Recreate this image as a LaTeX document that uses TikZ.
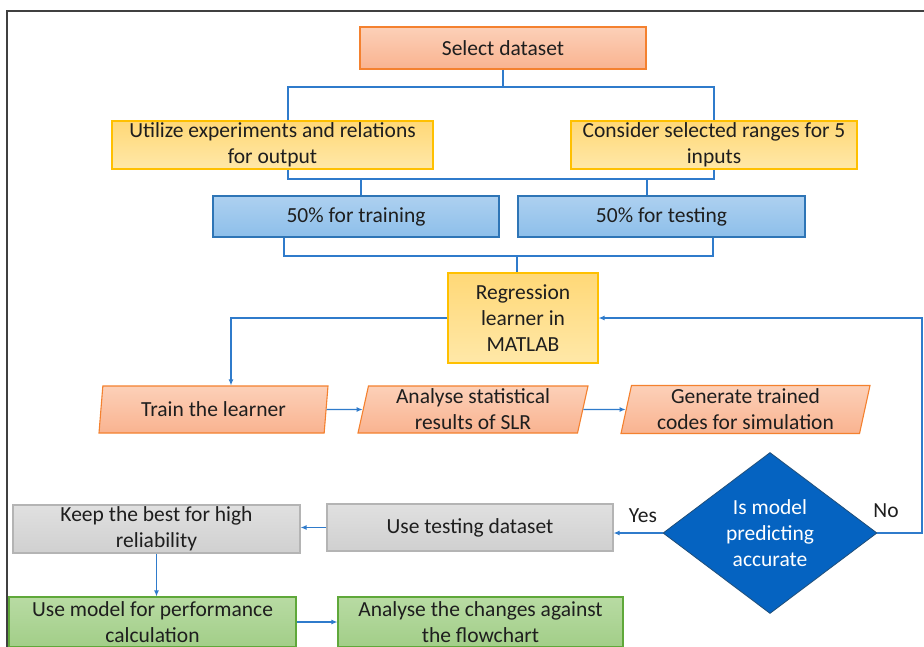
\documentclass[tikz,border=0pt]{standalone}
\usepackage{fontspec}
\setmainfont{Carlito}
\usetikzlibrary{shapes.geometric,arrows.meta}
\definecolor{txt}{HTML}{1E1E1E}
\definecolor{lnc}{HTML}{2F7BCB}
\definecolor{orT}{HTML}{FCD0B8}
\definecolor{orB}{HTML}{F9B390}
\definecolor{orD}{HTML}{F4812F}
\definecolor{yeT}{HTML}{FFD877}
\definecolor{yeB}{HTML}{FFE8A8}
\definecolor{yeD}{HTML}{FFC000}
\definecolor{blT}{HTML}{ADD0F0}
\definecolor{blB}{HTML}{8DBFEA}
\definecolor{blD}{HTML}{2E75B6}
\definecolor{grT}{HTML}{E0E0E0}
\definecolor{grB}{HTML}{D0D0D0}
\definecolor{grD}{HTML}{B4B4B4}
\definecolor{gnT}{HTML}{B8DBA3}
\definecolor{gnB}{HTML}{A2CE88}
\definecolor{gnD}{HTML}{5FA83A}
\definecolor{diaF}{HTML}{0563C1}
\definecolor{diaD}{HTML}{1F4E79}
\definecolor{frm}{HTML}{404040}
\begin{document}
\begin{tikzpicture}[x=1pt,y=-1pt,
  box/.style={draw, line width=1.1pt, inner sep=0pt, align=center,
    font=\fontsize{21.5}{26}\selectfont, text=txt},
  orbox/.style={box, draw=orD, top color=orT, bottom color=orB},
  yebox/.style={box, draw=yeD, top color=yeT, bottom color=yeB},
  blbox/.style={box, draw=blD, top color=blT, bottom color=blB},
  grbox/.style={box, draw=grD, top color=grT, bottom color=grB},
  gnbox/.style={box, draw=gnD, top color=gnT, bottom color=gnB},
  para/.style={orbox, trapezium, trapezium left angle=75.7, trapezium right angle=104.3,
    trapezium stretches body},
  conn/.style={draw=lnc, line width=1.4pt},
  arr/.style={conn, -{Latex[length=6pt,width=5pt]}},
  lbl/.style={font=\fontsize{21.5}{26}\selectfont, text=txt, inner sep=0pt}
]
\useasboundingbox (0,0) rectangle (924,646);
\clip (0,0) rectangle (924,646);
\fill[white] (0,0) rectangle (924,646);
\draw[frm, line width=1.5pt] (7,650) -- (7,11) -- (928,11);

% nodes
\node[orbox, minimum width=286pt, minimum height=42pt] (sel) at (503,48) {Select dataset};
\node[yebox, minimum width=321pt, minimum height=48pt] (yl) at (272.5,145) {Utilize experiments and relations\\for output};
\node[yebox, minimum width=286pt, minimum height=48pt] (yr) at (714,145) {Consider selected ranges for 5\\inputs};
\node[blbox, minimum width=286pt, minimum height=41pt] (bl) at (356,216.5) {50\% for training};
\node[blbox, minimum width=287pt, minimum height=41pt] (br) at (661.5,216.5) {50\% for testing};
\node[yebox, minimum width=150pt, minimum height=90pt] (reg) at (523,318) {Regression\\learner in\\MATLAB};
\node[para, minimum width=229pt, minimum height=47pt] (train) at (213.5,409.5) {Train the learner};
\node[para, minimum width=230pt, minimum height=47pt] (anal) at (473,409.5) {Analyse statistical\\results of SLR};
\node[para, minimum width=249pt, minimum height=48pt] (gen) at (745.5,409.5) {Generate trained\\codes for simulation};
\node[diamond, draw=diaD, line width=0.8pt, fill=diaF, minimum width=214pt, minimum height=161pt,
  inner sep=0pt, align=center, text=white, font=\fontsize{21.5}{26}\selectfont] (dia) at (770,533)
  {Is model\\predicting\\accurate};
\node[grbox, minimum width=286pt, minimum height=47pt] (test) at (470,527.5) {Use testing dataset};
\node[grbox, minimum width=287pt, minimum height=48pt] (keep) at (156.5,529) {Keep the best for high\\reliability};
\node[gnbox, minimum width=287pt, minimum height=50pt] (usem) at (152.5,622) {Use model for performance\\calculation};
\node[gnbox, minimum width=285pt, minimum height=50pt] (anc) at (480.5,622) {Analyse the changes against\\the flowchart};

% labels
\node[lbl] (yes) at (643,516) {Yes};
\node[lbl] (no) at (886,511) {No};

% connectors
\coordinate (c1) at (288,87);
\coordinate (c2) at (714,87);
\draw[conn] (sel.south) -- (sel.south |- c1);
\draw[conn] (yl.north -| c1) -- (c1) -- (c2) -- (yr.north);

\coordinate (d1) at (288,179);
\coordinate (d2) at (714,179);
\draw[conn] (d1 |- yl.south) -- (d1) -- (d2) -- (yr.south);
\coordinate (e1) at (361,179);
\coordinate (e2) at (647,179);
\draw[conn] (e1) -- (e1 |- bl.north);
\draw[conn] (e2) -- (e2 |- br.north);

\coordinate (f1) at (284,256);
\coordinate (f2) at (713,256);
\coordinate (f3) at (517,256);
\draw[conn] (f1 |- bl.south) -- (f1) -- (f2) -- (f2 |- br.south);
\draw[conn] (f3) -- (f3 |- reg.north);

\coordinate (g1) at (231,318);
\draw[arr] (reg.west) -- (g1) -- (g1 |- train.north);
\draw[arr] (train.east) -- (anal.west);
\draw[arr] (anal.east) -- (gen.west);

\coordinate (h1) at (922,533);
\draw[arr] (dia.east) -- (h1) |- (reg.east);
\draw[arr] (dia.west) -- (dia.west -| test.east);
\draw[arr] (test.west) -- (test.west -| keep.east);
\draw[arr] (keep.south) -- (keep.south |- usem.north);
\draw[arr] (usem.east) -- (anc.west);
\end{tikzpicture}
\end{document}
